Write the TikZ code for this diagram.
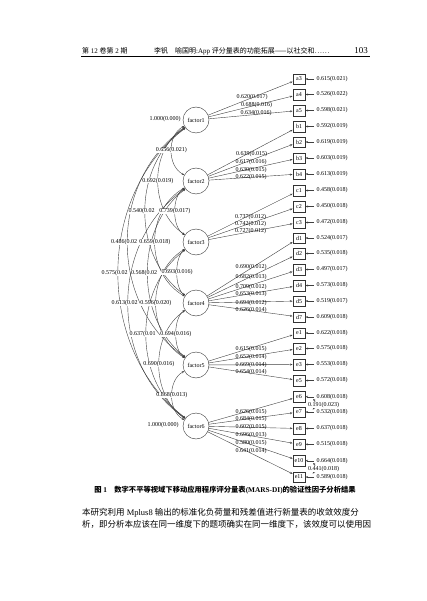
\documentclass[tikz,border=0pt]{standalone}
\usepackage{fontspec}
\setmainfont{Liberation Serif}
\newfontfamily\cjk{Noto Sans CJK SC}
\usetikzlibrary{arrows.meta}
\newcommand{\zh}[1]{{\cjk #1}}

\begin{document}
\begin{tikzpicture}[x=1pt, y=-1pt, >={Stealth[length=2.6pt,width=2pt]},
  factor/.style={circle, draw=black!80, minimum size=26pt, inner sep=0pt, font=\fontsize{6}{7}\selectfont},
  item/.style={draw=black!80, minimum width=12.5pt, minimum height=10.5pt, inner sep=1pt, font=\fontsize{6}{7}\selectfont},
  val/.style={inner sep=0pt, font=\fontsize{6}{7}\selectfont},
  resid/.style={val, anchor=west, inner xsep=2.5pt},
  corr/.style={val, fill=white, inner xsep=0.4pt},
  cut/.style={corr, anchor=west, xshift=-17pt},
  link/.style={draw=black!75, line width=0.4pt}]
  \useasboundingbox (0,0) rectangle (427,601);

  % running head
  \node[anchor=west, inner sep=0pt, font=\fontsize{7}{8}\selectfont] (head1) at (82,51) {\zh{第} 12 \zh{卷第} 2 \zh{期}};
  \node[anchor=west, inner sep=0pt, font=\fontsize{7}{8}\selectfont] (head2) at (154,51) {\zh{李钒\quad 喻国明}:App \zh{评分量表的功能拓展——以社交和……}};
  \node[anchor=east, inner sep=0pt, font=\fontsize{9}{10}\selectfont] (page) at (368,51) {103};
  \draw[line width=0.7pt] (81,56) -- (370,56);

  % factors
  \node[factor] (f1) at (196,120) {factor1};
  \node[factor] (f2) at (196,181) {factor2};
  \node[factor] (f3) at (196,242) {factor3};
  \node[factor] (f4) at (196,303) {factor4};
  \node[factor] (f5) at (196,365) {factor5};
  \node[factor] (f6) at (196,426) {factor6};

  % items
  \node[item] (a3) at (299,79) {a3};
  \node[item] (a4) at (299,94.5) {a4};
  \node[item] (a5) at (299,110.5) {a5};
  \node[item] (b1) at (299,126.5) {b1};
  \node[item] (b2) at (299,142) {b2};
  \node[item] (b3) at (299,158) {b3};
  \node[item] (b4) at (299,174) {b4};
  \node[item] (c1) at (299,190.5) {c1};
  \node[item] (c2) at (299,206.5) {c2};
  \node[item] (c3) at (299,222.5) {c3};
  \node[item] (d1) at (299,238) {d1};
  \node[item] (d2) at (299,253.5) {d2};
  \node[item] (d3) at (299,269.5) {d3};
  \node[item] (d4) at (299,285.5) {d4};
  \node[item] (d5) at (299,301) {d5};
  \node[item] (d7) at (299,317) {d7};
  \node[item] (e1) at (299,333) {e1};
  \node[item] (e2) at (299,348.5) {e2};
  \node[item] (e3) at (299,364.5) {e3};
  \node[item] (e5) at (299,380.5) {e5};
  \node[item] (e6) at (299,396.7) {e6};
  \node[item] (e7) at (299,412) {e7};
  \node[item] (e8) at (299,428.5) {e8};
  \node[item] (e9) at (299,444.3) {e9};
  \node[item] (e10) at (299,460.7) {e10};
  \node[item] (e11) at (299,477) {e11};

  % loadings
  \draw[link, ->] (f1) -- (a3);
  \draw[link, ->] (f1) -- (a4);
  \draw[link, ->] (f1) -- (a5);
  \draw[link, ->] (f2) -- (b1);
  \draw[link, ->] (f2) -- (b2);
  \draw[link, ->] (f2) -- (b3);
  \draw[link, ->] (f2) -- (b4);
  \draw[link, ->] (f3) -- (c1);
  \draw[link, ->] (f3) -- (c2);
  \draw[link, ->] (f3) -- (c3);
  \draw[link, ->] (f4) -- (d1);
  \draw[link, ->] (f4) -- (d2);
  \draw[link, ->] (f4) -- (d3);
  \draw[link, ->] (f4) -- (d4);
  \draw[link, ->] (f4) -- (d5);
  \draw[link, ->] (f4) -- (d7);
  \draw[link, ->] (f5) -- (e1);
  \draw[link, ->] (f5) -- (e2);
  \draw[link, ->] (f5) -- (e3);
  \draw[link, ->] (f5) -- (e5);
  \draw[link, ->] (f6) -- (e6);
  \draw[link, ->] (f6) -- (e7);
  \draw[link, ->] (f6) -- (e8);
  \draw[link, ->] (f6) -- (e9);
  \draw[link, ->] (f6) -- (e10);
  \draw[link, ->] (f6) -- (e11);

  \node[val] (la3) at (252,96.7) {0.620(0.017)};
  \node[val] (la4) at (256.5,105) {0.688(0.016)};
  \node[val] (la5) at (256,112.7) {0.634(0.016)};
  \node[val] (lb1) at (251.5,154.3) {0.639(0.015)};
  \node[val] (lb2) at (251,162) {0.617(0.016)};
  \node[val] (lb3) at (251,170.5) {0.630(0.015)};
  \node[val] (lb4) at (251,177.3) {0.622(0.015)};
  \node[val] (lc1) at (250.5,216.7) {0.737(0.012)};
  \node[val] (lc2) at (250.5,224) {0.742(0.012)};
  \node[val] (lc3) at (250.5,230.7) {0.727(0.012)};
  \node[val] (ld1) at (251,267) {0.690(0.012)};
  \node[val] (ld2) at (251,276.7) {0.682(0.013)};
  \node[val] (ld3) at (251,286.7) {0.709(0.012)};
  \node[val] (ld4) at (251,294.3) {0.653(0.013)};
  \node[val] (ld5) at (251,302.7) {0.694(0.012)};
  \node[val] (ld7) at (251,310) {0.626(0.014)};
  \node[val] (le1) at (251,349.3) {0.615(0.015)};
  \node[val] (le2) at (251,357.3) {0.652(0.014)};
  \node[val] (le3) at (251,365) {0.669(0.014)};
  \node[val] (le5) at (251,372.5) {0.654(0.014)};
  \node[val] (le6) at (251,411.7) {0.626(0.015)};
  \node[val] (le7) at (251,419.3) {0.684(0.015)};
  \node[val] (le8) at (251,427.3) {0.602(0.015)};
  \node[val] (le9) at (251,435) {0.696(0.013)};
  \node[val] (le10) at (251,442.7) {0.580(0.015)};
  \node[val] (le11) at (251,450.7) {0.641(0.014)};

  % residuals
  \node[resid] (ra3) at (314,79) {0.615(0.021)};
  \node[resid] (ra4) at (314,94.5) {0.526(0.022)};
  \node[resid] (ra5) at (314,110.5) {0.598(0.021)};
  \node[resid] (rb1) at (314,126.5) {0.592(0.019)};
  \node[resid] (rb2) at (314,142) {0.619(0.019)};
  \node[resid] (rb3) at (314,158) {0.603(0.019)};
  \node[resid] (rb4) at (314,174) {0.613(0.019)};
  \node[resid] (rc1) at (314,190.5) {0.458(0.018)};
  \node[resid] (rc2) at (314,206.5) {0.450(0.018)};
  \node[resid] (rc3) at (314,222.5) {0.472(0.018)};
  \node[resid] (rd1) at (314,238) {0.524(0.017)};
  \node[resid] (rd2) at (314,253.5) {0.535(0.018)};
  \node[resid] (rd3) at (314,269.5) {0.497(0.017)};
  \node[resid] (rd4) at (314,285.5) {0.573(0.018)};
  \node[resid] (rd5) at (314,301) {0.519(0.017)};
  \node[resid] (rd7) at (314,317) {0.609(0.018)};
  \node[resid] (re1) at (314,333) {0.622(0.018)};
  \node[resid] (re2) at (314,348.5) {0.575(0.018)};
  \node[resid] (re3) at (314,364.5) {0.553(0.018)};
  \node[resid] (re5) at (314,380.5) {0.572(0.018)};
  \node[resid] (re6) at (314,396.7) {0.608(0.018)};
  \node[resid] (re7) at (314,412) {0.532(0.018)};
  \node[resid] (re8) at (314,428.5) {0.637(0.018)};
  \node[resid] (re9) at (314,444.3) {0.515(0.018)};
  \node[resid] (re10) at (314,460.7) {0.664(0.018)};
  \node[resid] (re11) at (314,477) {0.589(0.018)};
  \foreach \i in {a3,a4,a5,b1,b2,b3,b4,c1,c2,c3,d1,d2,d3,d4,d5,d7,e1,e2,e3,e5,e6,e7,e8,e9,e10,e11}
    \draw[link, ->] (r\i) -- (\i);

  % residual covariances
  \coordinate (k6) at (313,399);
  \coordinate (k7) at (312.5,409.5);
  \coordinate (k10) at (313,463);
  \coordinate (k11) at (312.5,473.5);
  \draw[link, <->] (k6) to[bend left=50] (k7);
  \draw[link, <->] (k10) to[bend left=50] (k11);
  \node[corr] (w67) at (323.5,405) {0.191(0.023)};
  \node[corr] (w1011) at (323.5,469) {0.441(0.018)};

  % factor correlations
  \path[link, <->] (f1) .. controls (167,135) and (167,166) .. coordinate[pos=0.5] (c12) (f2);
  \path[link, <->] (f1) .. controls (149,150) and (149,211) .. coordinate[pos=0.5] (c13) (f3);
  \path[link, <->] (f1) .. controls (131.7,166) and (131.7,257) .. coordinate[pos=0.5] (c14) (f4);
  \path[link, <->] (f1) .. controls (108.3,181) and (108.3,304) .. coordinate[pos=0.5] (c15) (f5);
  \path[link, <->] (f1) .. controls (95.7,196) and (95.7,350) .. coordinate[pos=0.5] (c16) (f6);
  \path[link, <->] (f2) .. controls (171.7,196) and (171.7,227) .. coordinate[pos=0.5] (c23) (f3);
  \path[link, <->] (f2) .. controls (145,211) and (145,273) .. coordinate[pos=0.5] (c24) (f4);
  \path[link, <->] (f2) .. controls (135,227) and (135,319) .. coordinate[pos=0.5] (c25) (f5);
  \path[link, <->] (f2) .. controls (109,242) and (109,365) .. coordinate[pos=0.5] (c26) (f6);
  \path[link, <->] (f3) .. controls (174.3,257) and (174.3,288) .. coordinate[pos=0.5] (c34) (f4);
  \path[link, <->] (f3) .. controls (146.3,273) and (146.3,334) .. coordinate[pos=0.5] (c35) (f5);
  \path[link, <->] (f3) .. controls (133,288) and (133,380) .. coordinate[pos=0.5] (c36) (f6);
  \path[link, <->] (f4) .. controls (173,318) and (173,350) .. coordinate[pos=0.5] (c45) (f5);
  \path[link, <->] (f4) .. controls (150.3,334) and (150.3,395) .. coordinate[pos=0.5] (c46) (f6);
  \path[link, <->] (f5) .. controls (167.7,380) and (167.7,411) .. coordinate[pos=0.5] (c56) (f6);

  \node[cut] at (c16) {0.575(0.02};
  \node[cut] at (c26) {0.613(0.02};
  \node[cut] at (c15) {0.486(0.02};
  \node[cut] at (c14) {0.540(0.02};
  \node[cut] at (c36) {0.637(0.01};
  \node[cut] at (c25) {0.568(0.02};
  \node[corr] at (c24) {0.659(0.018)};
  \node[corr] at (c35) {0.596(0.020)};
  \node[corr] at (c13) {0.692(0.019)};
  \node[corr] at (c46) {0.690(0.016)};
  \node[corr] at (c23) {0.739(0.017)};
  \node[corr] at (c12) {0.656(0.021)};
  \node[corr] at (c56) {0.868(0.013)};
  \node[corr] at (c45) {0.694(0.016)};
  \node[corr] at (c34) {0.693(0.016)};

  \node[val] (v1) at (165,119) {1.000(0.000)};
  \node[val] (v6) at (163,425) {1.000(0.000)};

  % caption and text
  \node[inner sep=0pt, font=\fontsize{7.3}{8}\selectfont\bfseries] (cap) at (225,490) {\zh{图} 1\quad\zh{数字不平等视域下移动应用程序评分量表}(MARS-DI)\zh{的验证性因子分析结果}};
  \node[anchor=west, inner sep=0pt, font=\fontsize{8.5}{10}\selectfont] (txt1) at (82,512.3) {\zh{本研究利用} Mplus8 \zh{输出的标准化负荷量和残差值进行新量表的收敛效度分}};
  \node[anchor=west, inner sep=0pt, font=\fontsize{8.5}{10}\selectfont] (txt2) at (82,524.3) {\zh{析，即分析本应该在同一维度下的题项确实在同一维度下，该效度可以使用因}};
\end{tikzpicture}
\end{document}
